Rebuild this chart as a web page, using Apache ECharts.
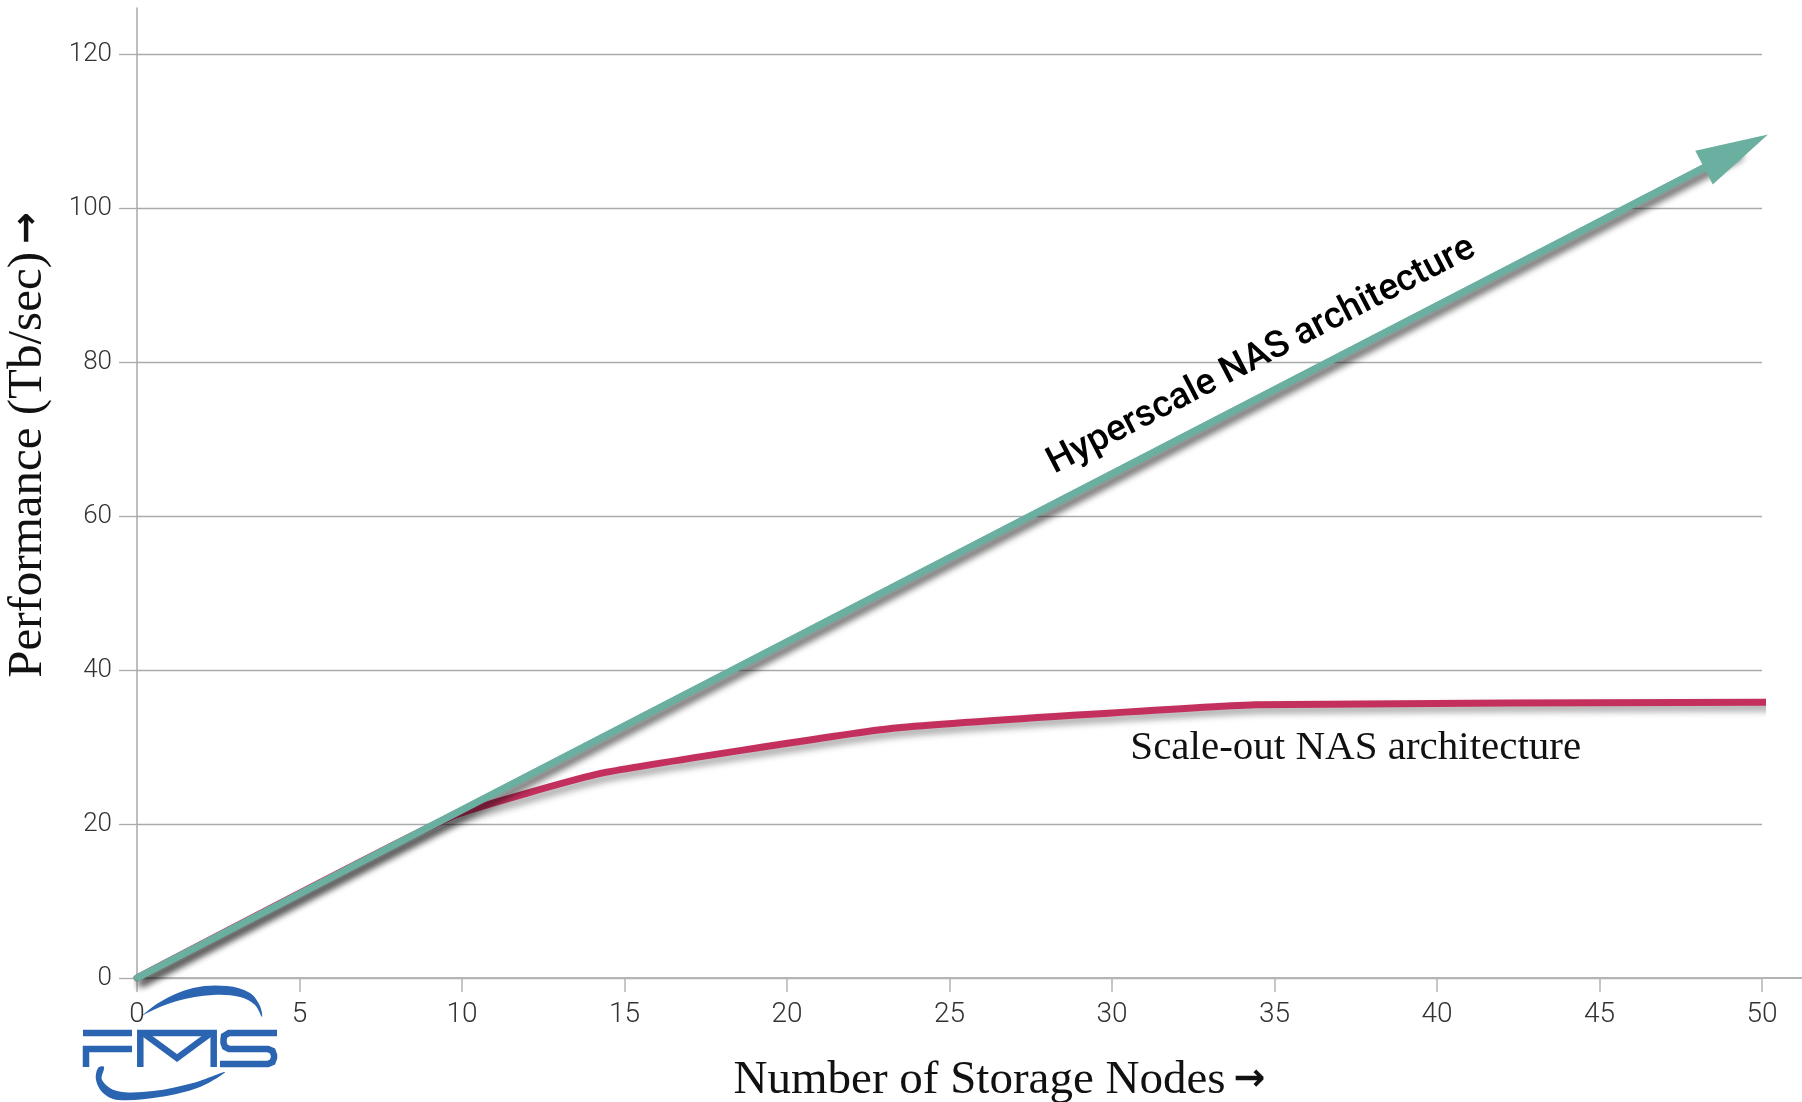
<!DOCTYPE html>
<html>
<head>
<meta charset="utf-8">
<title>Hyperscale vs Scale-out NAS</title>
<script src="https://cdn.jsdelivr.net/npm/echarts@6/dist/echarts.min.js"></script>
<style>
  html, body { margin: 0; padding: 0; background: #fff; }
  #chart { width: 1802px; height: 1102px; }
</style>
</head>
<body>
<div id="chart"></div>
<script>
// values (the last hyperscale point is the centre of the arrow head)
const hyperNodes = [0, 49.2];
const hyperPerf = [0, 107.4];
const scaleNodes = [0, 9.7, 14.3, 23.2, 34.4, 50.15];
const scalePerf = [0, 21.0, 26.6, 32.4, 35.5, 35.8];

const xMin = 0, xMax = 50, xStep = 5;
const yMin = 0, yMax = 120, yStep = 20;

const hyperLabel = 'Hyperscale NAS architecture';
const hyperLabelAt = [34.6, 80.8];
const scaleLabel = 'Scale-out NAS architecture';
const scaleLabelAt = [37.5, 29.9];

const GREEN = '#6aafa0';
const RED = '#c4305e';
const BLUE = '#2b64b0';

const zip = (xs, ys) => xs.map((x, i) => [x, ys[i]]);

const shadow = {
  shadowColor: 'rgba(0,0,0,0.38)',
  shadowBlur: 7,
  shadowOffsetX: 4,
  shadowOffsetY: 5
};

const arrowRich = {
  t: { fontFamily: 'Liberation Serif', color: '#111' },
  a: { fontFamily: 'DejaVu Sans', fontWeight: 'bold', color: '#111', padding: [0, 0, 0, 8] }
};

// FMS logo pieces (decoration, pixel space)
const logoStroke = { fill: null, stroke: BLUE, lineWidth: 6.5 };
const logoLines = [
  [[83, 1033], [132, 1033]],
  [[132, 1049], [86, 1049], [86, 1067]],
  [[140.3, 1067], [140.3, 1033], [213.7, 1033], [213.7, 1067]],
  [[143, 1033], [177, 1058], [211, 1033]],
  [[277, 1033], [229, 1033], [224, 1036], [223.5, 1040], [223.5, 1043], [225, 1047], [229, 1049],
   [268, 1049], [272.5, 1051], [274, 1055], [274, 1058], [272.5, 1062], [268, 1064], [220, 1064]]
];
const logoSwooshes = [
  [[135, 1022], [160, 1002], [193, 988], [227, 986], [250, 993], [260, 1006], [262, 1017],
   [255, 1005], [240, 997], [213, 995], [177, 1001], [147, 1013]],
  [[98, 1068], [96, 1080], [103, 1093], [118, 1100], [160, 1097], [200, 1087], [225, 1072],
   [193, 1083], [153, 1091], [117, 1091], [102, 1080], [104, 1067]]
];

const chart = echarts.init(document.getElementById('chart'));

const option = {
  animation: false,
  backgroundColor: '#fff',
  grid: [
    { left: 137, right: 40, top: 54, bottom: 124, outerBoundsMode: 'none' },
    { left: 137, right: 0, top: 8, bottom: 124, outerBoundsMode: 'none' }
  ],
  xAxis: [
    {
      gridIndex: 0,
      type: 'value',
      min: xMin,
      max: xMax,
      interval: xStep,
      axisLine: { show: false },
      axisTick: { length: 14, lineStyle: { color: '#b4b4b4', width: 1.5 } },
      axisLabel: {
        margin: 23,
        fontSize: 28,
        fontFamily: 'Roboto',
        fontWeight: 300,
        color: '#333'
      },
      splitLine: { show: false },
      name: '{t|Number of Storage Nodes}{a|\u2192}',
      nameLocation: 'middle',
      nameGap: 79,
      nameTextStyle: {
        fontSize: 47,
        padding: [0, 0, 0, 100],
        rich: {
          t: Object.assign({ fontSize: 47 }, arrowRich.t),
          a: Object.assign({ fontSize: 38 }, arrowRich.a)
        }
      }
    },
    {
      gridIndex: 1,
      type: 'value',
      min: 0,
      max: 1,
      axisLine: { lineStyle: { color: '#b4b4b4', width: 2 } },
      axisTick: { show: false },
      axisLabel: { show: false },
      splitLine: { show: false }
    }
  ],
  yAxis: [
    {
      gridIndex: 0,
      type: 'value',
      min: yMin,
      max: yMax,
      interval: yStep,
      axisLine: { show: false },
      axisTick: { show: true, length: 18, lineStyle: { color: '#a8aaad', width: 1.3 } },
      axisLabel: {
        margin: 25,
        fontSize: 26,
        fontFamily: 'Roboto',
        fontWeight: 300,
        color: '#333'
      },
      splitLine: { lineStyle: { color: '#a8aaad', width: 1.3 } },
      name: '{t|Performance (Tb/sec)}{a|\u2192}',
      nameLocation: 'middle',
      nameGap: 84,
      nameTextStyle: {
        fontSize: 49,
        padding: [0, 0, 0, 142],
        rich: {
          t: Object.assign({ fontSize: 49 }, arrowRich.t),
          a: Object.assign({ fontSize: 38 }, arrowRich.a)
        }
      }
    },
    {
      gridIndex: 1,
      type: 'value',
      min: 0,
      max: 1,
      axisLine: { lineStyle: { color: '#a8a8a8', width: 1.5 } },
      axisTick: { show: false },
      axisLabel: { show: false },
      splitLine: { show: false }
    }
  ],
  series: [
    {
      name: 'Scale-out NAS architecture',
      type: 'line',
      xAxisIndex: 0,
      yAxisIndex: 0,
      data: zip(scaleNodes, scalePerf),
      clip: false,
      smooth: 0.12,
      symbol: 'none',
      lineStyle: Object.assign({ color: RED, width: 7, cap: 'round', join: 'round' }, shadow),
      z: 3,
      markPoint: {
        silent: true,
        symbol: 'circle',
        symbolSize: 1,
        itemStyle: { color: 'rgba(0,0,0,0)' },
        label: {
          show: true,
          position: 'inside',
          formatter: scaleLabel,
          fontFamily: 'Liberation Serif',
          fontSize: 41,
          color: '#111'
        },
        data: [{ coord: scaleLabelAt }]
      }
    },
    {
      name: 'Hyperscale NAS architecture',
      type: 'line',
      xAxisIndex: 0,
      yAxisIndex: 0,
      data: zip(hyperNodes, hyperPerf),
      clip: false,
      symbol: 'none',
      lineStyle: Object.assign({ color: GREEN, width: 7, cap: 'round' }, shadow),
      z: 4,
      markLine: {
        silent: true,
        symbol: ['none', 'triangle'],
        symbolSize: [38, 72],
        label: { show: false },
        lineStyle: Object.assign({ color: GREEN, width: 7, type: 'solid', cap: 'butt' }, shadow),
        data: [[
          { coord: [hyperNodes[0], hyperPerf[0]] },
          { coord: [hyperNodes[hyperNodes.length - 1], hyperPerf[hyperPerf.length - 1]] }
        ]]
      },
      markPoint: {
        silent: true,
        symbol: 'circle',
        symbolSize: 1,
        itemStyle: { color: 'rgba(0,0,0,0)' },
        label: {
          show: true,
          position: 'inside',
          formatter: hyperLabel,
          rotate: 27.4,
          fontFamily: 'Roboto',
          fontWeight: 500,
          fontSize: 37,
          color: '#000'
        },
        data: [{ coord: hyperLabelAt }]
      }
    }
  ],
  graphic: logoSwooshes.map(pts => ({
    type: 'polygon',
    silent: true,
    shape: { points: pts, smooth: 0.35 },
    style: { fill: BLUE }
  })).concat(logoLines.map(pts => ({
    type: 'polyline',
    silent: true,
    shape: { points: pts },
    style: logoStroke
  })))
};

chart.setOption(option);
window.addEventListener('resize', () => chart.resize());
</script>
</body>
</html>
